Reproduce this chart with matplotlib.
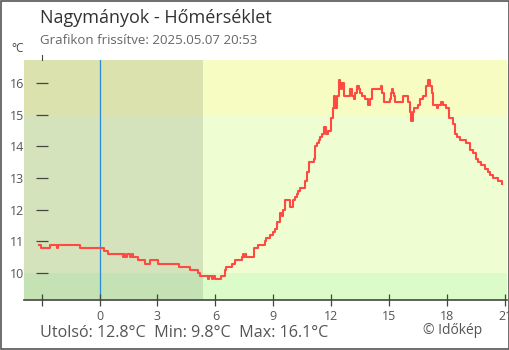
import matplotlib
matplotlib.use("Agg")
import matplotlib.pyplot as plt
from matplotlib.patches import Rectangle

plt.rcParams['font.family'] = ['Open Sans', 'DejaVu Sans']

# temperature readings: hours relative to midnight, degrees C
hours = [-3.13, -3.02, -2.55, -2.19, -2.14, -0.99, 0.21, 0.31, 0.42, 1.20, 1.25, 1.30,
         1.41, 1.56, 1.67, 1.72, 1.98, 2.35, 2.61, 3.02, 4.12, 4.69, 5.11, 5.21,
         5.63, 5.68, 5.84, 5.89, 5.99, 6.31, 6.51, 6.57, 6.88, 7.04, 7.40, 7.45,
         7.50, 7.56, 7.61, 8.02, 8.23, 8.44, 8.55, 8.60, 8.65, 8.81, 8.91, 8.96,
         9.07, 9.17, 9.33, 9.43, 9.48, 9.59, 9.85, 9.95, 10.01, 10.11, 10.21, 10.27,
         10.37, 10.47, 10.63, 10.73, 10.84, 11.10, 11.15, 11.26, 11.36, 11.41, 11.52, 11.62,
         11.72, 11.83, 11.98, 12.09, 12.14, 12.19, 12.30, 12.40, 12.45, 12.51, 12.56, 12.66,
         12.98, 13.08, 13.18, 13.24, 13.34, 13.44, 13.50, 13.60, 13.76, 13.91, 14.02, 14.12,
         14.59, 14.64, 14.75, 15.06, 15.11, 15.16, 15.22, 15.27, 15.32, 15.58, 15.69, 15.95,
         16.05, 16.10, 16.15, 16.21, 16.31, 16.47, 16.57, 16.73, 16.88, 16.99, 17.09, 17.20,
         17.25, 17.46, 17.51, 17.61, 17.67, 17.77, 17.93, 18.03, 18.08, 18.29, 18.39, 18.50,
         18.66, 18.86, 18.97, 19.18, 19.33, 19.49, 19.59, 19.75, 19.96, 20.11, 20.22, 20.37,
         20.48, 20.64, 20.74, 20.84]
temps = [10.9, 10.8, 10.9, 10.8, 10.9, 10.8, 10.7, 10.7, 10.6, 10.5, 10.6, 10.5,
         10.6, 10.5, 10.6, 10.5, 10.4, 10.3, 10.4, 10.3, 10.2, 10.1, 10.0, 9.9,
         9.8, 9.9, 9.8, 9.9, 9.8, 9.9, 10.1, 10.2, 10.3, 10.4, 10.5, 10.6,
         10.5, 10.6, 10.5, 10.8, 10.9, 10.9, 11.0, 11.1, 11.1, 11.2, 11.2, 11.3,
         11.4, 11.6, 11.9, 11.8, 12.0, 12.3, 12.1, 12.1, 12.3, 12.4, 12.5, 12.6,
         12.7, 12.7, 12.9, 13.2, 13.5, 13.6, 14.0, 14.1, 14.2, 14.3, 14.4, 14.6,
         14.4, 14.5, 14.9, 15.2, 15.6, 15.2, 15.6, 16.1, 16.0, 15.8, 16.0, 15.6,
         15.8, 15.6, 15.5, 15.7, 15.9, 15.8, 15.7, 15.6, 15.5, 15.3, 15.5, 15.8,
         15.9, 15.7, 15.4, 15.5, 15.7, 15.8, 15.7, 15.6, 15.4, 15.4, 15.6, 15.4,
         15.4, 15.1, 14.8, 15.1, 15.2, 15.3, 15.5, 15.6, 15.9, 16.1, 15.9, 15.7,
         15.3, 15.2, 15.3, 15.3, 15.4, 15.3, 15.2, 15.2, 14.9, 14.7, 14.4, 14.3,
         14.2, 14.2, 14.1, 13.9, 13.8, 13.6, 13.5, 13.4, 13.3, 13.2, 13.1, 13.0,
         13.0, 12.9, 12.9, 12.8]

x_ticks = [-3, 0, 3, 6, 9, 12, 15, 18, 21]
x_labels = ['', '0', '3', '6', '9', '12', '15', '18', '21']
y_ticks = [10, 11, 12, 13, 14, 15, 16]
sunrise = 5.37
x_min, x_max = -3.91, 21.1
y_min, y_max = 9.15, 16.73

fig = plt.figure(figsize=(5.1, 3.5), dpi=100)
ax = fig.add_axes([24 / 510, 0.1429, 483 / 510, 0.6857])
ax.set_xlim(x_min, x_max)
ax.set_ylim(y_min, y_max)

# day colour bands, then a darker overlay for the night part
ax.axhspan(y_min, 10, color='#dbfcc9', lw=0, zorder=0)
ax.axhspan(10, 15, color='#eefdd2', lw=0, zorder=0)
ax.axhspan(15, y_max, color='#f6fcc2', lw=0, zorder=0)
ax.axvspan(x_min, sunrise, color='black', alpha=0.1, lw=0, zorder=0.5)

ax.axvline(0, color='#2a8ad8', lw=0.9, zorder=1)
ax.plot(hours, temps, drawstyle='steps-post', color='#ff4a42', lw=1.5, zorder=3)

for s in ['top', 'right']:
    ax.spines[s].set_visible(False)
ax.spines['bottom'].set_color('#444444')
ax.spines['bottom'].set_linewidth(1.2)
ax.spines['left'].set_position(('data', -3))
ax.spines['left'].set_bounds(y_max, 16.88)
ax.spines['left'].set_color('#444444')
ax.spines['left'].set_linewidth(0.8)
ax.spines['left'].set_clip_on(False)

ax.set_xticks(x_ticks)
ax.set_xticklabels(x_labels)
ax.set_yticks(y_ticks)
ax.tick_params(axis='x', direction='inout', length=8.6, width=0.9, color='#444444',
               labelsize=9, labelcolor='#555555', pad=3)
ax.tick_params(axis='y', direction='inout', length=8.6, width=0.9, color='#444444',
               labelsize=9, labelcolor='#555555', pad=8)

fig.text(40 / 510, 1 - 18 / 350, 'Nagymányok - Hőmérséklet', fontsize=13,
         color='#333333', va='center', ha='left')
fig.text(40 / 510, 1 - 41 / 350, 'Grafikon frissítve: 2025.05.07 20:53', fontsize=9.5,
         color='#666666', va='center', ha='left')
fig.text(18 / 510, 1 - 49 / 350, '°C', fontsize=8.5, color='#444444',
         va='center', ha='center')
fig.text(40 / 510, 1 - 333 / 350, 'Utolsó: 12.8°C  Min: 9.8°C  Max: 16.1°C',
         fontsize=11.6, color='#555555', va='center', ha='left')
fig.text(453 / 510, 1 - 330 / 350, '© Időkép', fontsize=10, color='#555555',
         va='center', ha='center')

fig.add_artist(Rectangle((0.001, 0.0015), 0.997, 0.996, transform=fig.transFigure,
                         fill=False, edgecolor='#555555', lw=1.2))

fig.savefig('out.png', dpi=100)
